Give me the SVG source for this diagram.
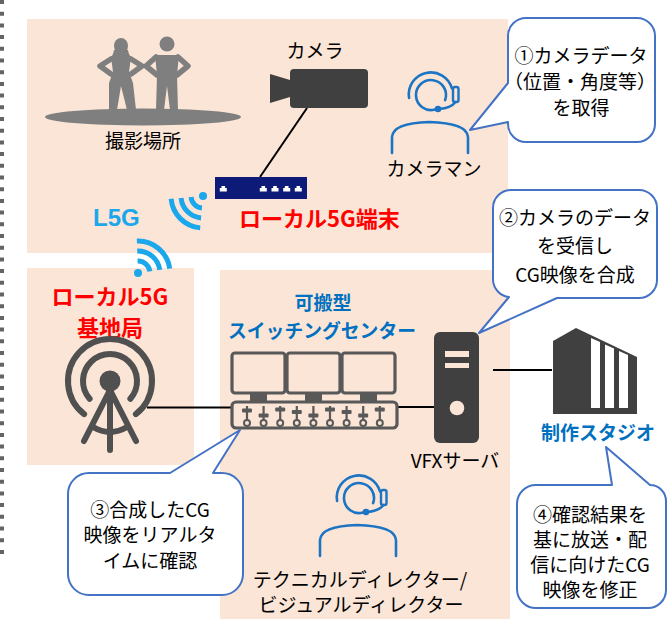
<svg xmlns="http://www.w3.org/2000/svg" width="669" height="619" viewBox="0 0 669 619">
  <style>
    .panel { fill: #FBE5D6; }
    .t { font-family: "Noto Sans CJK JP", "Noto Sans", sans-serif; font-size: 19px; fill: #000; text-anchor: middle; }
    .red { fill: #FF0000; font-weight: bold; font-size: 22px; }
    .blue { fill: #0070C0; font-weight: bold; }
    .sky { font-family: "Liberation Sans", "Noto Sans", sans-serif; fill: #1AA7EC; font-weight: bold; font-size: 24px; }
    .wire { stroke: #000; stroke-width: 2; fill: none; }
    .callout { fill: #fff; stroke: #4472C4; stroke-width: 2; stroke-linejoin: round; }
    .wave { fill: none; stroke: #1AA7EC; stroke-width: 5; }
    .agent { fill: none; stroke: #1C74C4; stroke-width: 2.6; stroke-linecap: round; }
    .dark { fill: #404040; }
    .gray { fill: #595959; }
    .person { fill: #7F7F7F; }
    .arm { fill: none; stroke: #7F7F7F; stroke-width: 5.5; stroke-linecap: round; stroke-linejoin: round; }
    .tower { fill: none; stroke: #505050; stroke-width: 6; stroke-linecap: round; }
    .kit { fill: #FBE5D6; stroke: #595959; stroke-width: 3.2; }
  </style>
  <defs>
    <!-- headset operator icon, head centred at 0,0 -->
    <g id="agent">
      <path class="agent" d="M 3.9 14.5 A 15 15 0 1 1 14.1 5.1"/>
      <path class="agent" d="M -21.9 3 A 22 22 0 0 1 21 -6.5"/>
      <rect x="22" y="-8" width="5.5" height="15" rx="2" fill="none" stroke="#1C74C4" stroke-width="2.4"/>
      <path class="agent" d="M 24.5 7 Q 20 13 8 14"/>
      <circle cx="7" cy="14" r="3.3" fill="#1C74C4"/>
      <path class="agent" d="M -39 58 V 42 Q -38 28 -2 27 Q 36 28 37 42 V 58"/>
    </g>
    <!-- router port glyph -->
    <path id="port" d="M -3.5 3 V -0.5 H -1.8 V -2.5 H 1.8 V -0.5 H 3.5 V 3 Z" fill="#fff"/>
  </defs>

  <!-- dotted margin rule -->
  <line x1="2" y1="0" x2="2" y2="558" stroke="#646464" stroke-width="4" stroke-dasharray="4 7.7"/>

  <!-- area backgrounds -->
  <rect class="panel" x="27" y="19" width="481" height="234"/>
  <rect class="panel" x="27" y="268" width="167" height="197"/>
  <rect class="panel" x="220" y="270" width="290" height="349"/>

  <!-- connectors -->
  <g id="connectors">
    <line class="wire" x1="307" y1="108" x2="260" y2="177"/>
    <line class="wire" x1="147" y1="407.5" x2="232" y2="407.5"/>
    <line class="wire" x1="397" y1="407" x2="434" y2="407"/>
    <line class="wire" x1="493" y1="370" x2="552" y2="370"/>
  </g>

  <!-- filming location -->
  <g id="location">
    <ellipse class="person" cx="143" cy="117" rx="98" ry="8.5"/>
    <!-- woman -->
    <ellipse class="person" cx="121" cy="46" rx="7" ry="8"/>
    <path class="person" d="M 114 50 Q 113 56 110 58 L 132 58 Q 129 56 128 50 Z"/>
    <path class="person" d="M 111 57 L 131 57 L 129 72 L 133 83 L 136 110 L 127 110 L 121 86 L 117 110 L 109 110 L 109 83 L 113 72 Z"/>
    <polyline class="arm" points="111,59 100,66 111,74"/>
    <polyline class="arm" points="131,59 142,66 131,74"/>
    <!-- man -->
    <circle class="person" cx="167" cy="44" r="7.5"/>
    <path class="person" d="M 155 55 L 179 55 L 177 75 L 178 110 L 170 110 L 167 86 L 164 110 L 156 110 L 157 75 Z"/>
    <polyline class="arm" points="156,57 146,66 157,75"/>
    <polyline class="arm" points="178,57 188,66 177,75"/>
    <text class="t" x="143" y="148" font-size="20">撮影場所</text>
  </g>

  <!-- camera -->
  <g id="camera">
    <rect class="dark" x="290" y="69" width="78" height="39" rx="4"/>
    <polygon class="dark" points="270,74 290,80 290,97 270,103"/>
    <text class="t" x="315" y="58">カメラ</text>
  </g>

  <!-- camera operator -->
  <g id="cameraman">
    <use href="#agent" x="431" y="95"/>
    <text class="t" x="434" y="176">カメラマン</text>
  </g>

  <!-- local 5G terminal -->
  <g id="terminal">
    <rect x="215" y="177" width="92" height="22" fill="#0D1A78"/>
    <use href="#port" x="223.3" y="188.5"/>
    <use href="#port" x="263.3" y="188.5"/>
    <use href="#port" x="275" y="188.5"/>
    <use href="#port" x="286.7" y="188.5"/>
    <use href="#port" x="298.3" y="188.5"/>
    <text class="t red" x="239" y="227" style="text-anchor:start">ローカル5G端末</text>
  </g>

  <!-- radio link -->
  <g id="radio">
    <text class="sky" x="93" y="226">L5G</text>
    <circle cx="203" cy="196" r="4" fill="#1AA7EC"/>
    <path class="wave" d="M 201.95 207.95 A 12 12 0 0 1 191.05 197.05"/>
    <path class="wave" d="M 201.08 217.92 A 22 22 0 0 1 181.08 197.92"/>
    <path class="wave" d="M 200.21 227.88 A 32 32 0 0 1 171.12 198.79"/>
    <circle cx="138" cy="273" r="4" fill="#1AA7EC"/>
    <path class="wave" d="M 137.58 261.01 A 12 12 0 0 1 149.88 271.33"/>
    <path class="wave" d="M 137.23 251.01 A 22 22 0 0 1 159.79 269.94"/>
    <path class="wave" d="M 136.88 241.02 A 32 32 0 0 1 169.69 268.55"/>
  </g>

  <!-- local 5G base station -->
  <g id="base-station">
    <text class="t red" x="110" y="305" font-size="21">ローカル5G</text>
    <text class="t red" x="110" y="336" font-size="21">基地局</text>
    <circle cx="110" cy="381" r="10.5" fill="#505050"/>
    <path class="tower" d="M 89.62 398.71 A 27 27 0 1 1 130.38 398.71"/>
    <path class="tower" d="M 84.14 414.1 A 42 42 0 1 1 135.86 414.1"/>
    <path class="tower" stroke-width="5" d="M 110 388 V 450 M 110 390 L 84 441 M 110 390 L 136 441 M 93 427 Q 110 437 127 427"/>
  </g>

  <!-- portable switching centre -->
  <g id="switching-center">
    <text class="t blue" x="323" y="310" font-size="22">可搬型</text>
    <text class="t blue" x="322" y="338" font-size="22" textLength="188" lengthAdjust="spacingAndGlyphs">スイッチングセンター</text>
    <rect class="kit" x="232" y="353" width="53" height="40" rx="3"/>
    <rect class="kit" x="287" y="353" width="53" height="40" rx="3"/>
    <rect class="kit" x="342" y="353" width="53" height="40" rx="3"/>
    <rect class="gray" x="250" y="393" width="17" height="9"/>
    <rect class="gray" x="305" y="393" width="17" height="9"/>
    <rect class="gray" x="360" y="393" width="17" height="9"/>
    <rect class="kit" x="232" y="402" width="165" height="26" rx="4"/>
    <g stroke="#595959" stroke-width="2.2">
      <path d="M 247 406 V 421 M 263.6 406 V 421 M 280.2 406 V 421 M 296.8 406 V 421 M 313.4 406 V 421 M 330 406 V 421 M 346.6 406 V 421 M 363.2 406 V 421 M 379.8 406 V 421"/>
    </g>
    <g class="gray">
      <rect x="242" y="408.5" width="10" height="4" rx="1"/>
      <rect x="258.6" y="413.5" width="10" height="4" rx="1"/>
      <rect x="275.2" y="407.5" width="10" height="4" rx="1"/>
      <rect x="291.8" y="410" width="10" height="4" rx="1"/>
      <rect x="308.4" y="413.5" width="10" height="4" rx="1"/>
      <rect x="325" y="407.5" width="10" height="4" rx="1"/>
      <rect x="341.6" y="410" width="10" height="4" rx="1"/>
      <rect x="358.2" y="413.5" width="10" height="4" rx="1"/>
      <rect x="374.8" y="407.5" width="10" height="4" rx="1"/>
    </g>
    <g fill="#FBE5D6" stroke="#595959" stroke-width="2">
      <circle cx="247" cy="423" r="3"/>
      <circle cx="263.6" cy="423" r="3"/>
      <circle cx="280.2" cy="423" r="3"/>
      <circle cx="296.8" cy="423" r="3"/>
      <circle cx="313.4" cy="423" r="3"/>
      <circle cx="330" cy="423" r="3"/>
      <circle cx="346.6" cy="423" r="3"/>
      <circle cx="363.2" cy="423" r="3"/>
      <circle cx="379.8" cy="423" r="3"/>
    </g>
  </g>

  <!-- VFX server -->
  <g id="vfx-server">
    <rect class="dark" x="434" y="332" width="45" height="111" rx="6"/>
    <rect x="445" y="351" width="24" height="6" fill="#FBE5D6"/>
    <rect x="445" y="363" width="24" height="5" fill="#FBE5D6"/>
    <circle cx="457" cy="408" r="7.3" fill="#FBE5D6"/>
    <text class="t" x="455" y="468">VFXサーバ</text>
  </g>

  <!-- production studio -->
  <g id="studio">
    <path class="dark" d="M 553 414 V 341 L 576 328 L 637 357 V 414 Z"/>
    <g fill="#fff">
      <path d="M 591 338 L 600 342 V 408 H 591 Z"/>
      <path d="M 605 344.5 L 614 348.5 V 408 H 605 Z"/>
      <path d="M 619 351 L 628 355 V 408 H 619 Z"/>
    </g>
    <text class="t blue" x="598" y="440" font-size="20">制作スタジオ</text>
  </g>

  <!-- technical / visual director -->
  <g id="director">
    <use href="#agent" x="359" y="498"/>
    <text class="t" x="360" y="587">テクニカルディレクター/</text>
    <text class="t" x="361" y="612">ビジュアルディレクター</text>
  </g>

  <!-- step callouts -->
  <g id="step1">
    <path class="callout" d="M 526 18 H 637 A 18 18 0 0 1 655 36 V 124 A 18 18 0 0 1 637 142 H 526 A 18 18 0 0 1 508 124 V 122 L 470 130 L 508 83 V 36 A 18 18 0 0 1 526 18 Z"/>
    <text class="t" x="581" y="63">①カメラデータ</text>
    <text class="t" x="580" y="89" font-size="14.5">（位置・角度等）</text>
    <text class="t" x="581" y="115" font-size="20">を取得</text>
  </g>
  <g id="step2">
    <path class="callout" d="M 511 190 H 639 A 18 18 0 0 1 657 208 V 280 A 18 18 0 0 1 639 298 H 557 L 479 333 L 509 297 A 18 18 0 0 1 493 280 V 208 A 18 18 0 0 1 511 190 Z"/>
    <text class="t" x="575" y="225">②カメラのデータ</text>
    <text class="t" x="575" y="253">を受信し</text>
    <text class="t" x="575" y="282">CG映像を合成</text>
  </g>
  <g id="step3">
    <path class="callout" d="M 89 473 H 170 L 240 430 L 213 473 H 222 A 21 21 0 0 1 243 494 V 574 A 21 21 0 0 1 222 595 H 89 A 21 21 0 0 1 68 574 V 494 A 21 21 0 0 1 89 473 Z"/>
    <text class="t" x="150" y="517">③合成したCG</text>
    <text class="t" x="150" y="542">映像をリアルタ</text>
    <text class="t" x="150" y="568">イムに確認</text>
  </g>
  <g id="step4">
    <path class="callout" d="M 536 485 H 612 L 606 447 L 650 485 A 16 16 0 0 1 666 501 V 590 A 18 18 0 0 1 648 608 H 536 A 19 19 0 0 1 517 589 V 504 A 19 19 0 0 1 536 485 Z"/>
    <text class="t" x="590" y="522" font-size="20.5">④確認結果を</text>
    <text class="t" x="590" y="547" font-size="20.5">基に放送・配</text>
    <text class="t" x="590" y="572" font-size="20.5">信に向けたCG</text>
    <text class="t" x="590" y="597" font-size="20.5">映像を修正</text>
  </g>
</svg>
